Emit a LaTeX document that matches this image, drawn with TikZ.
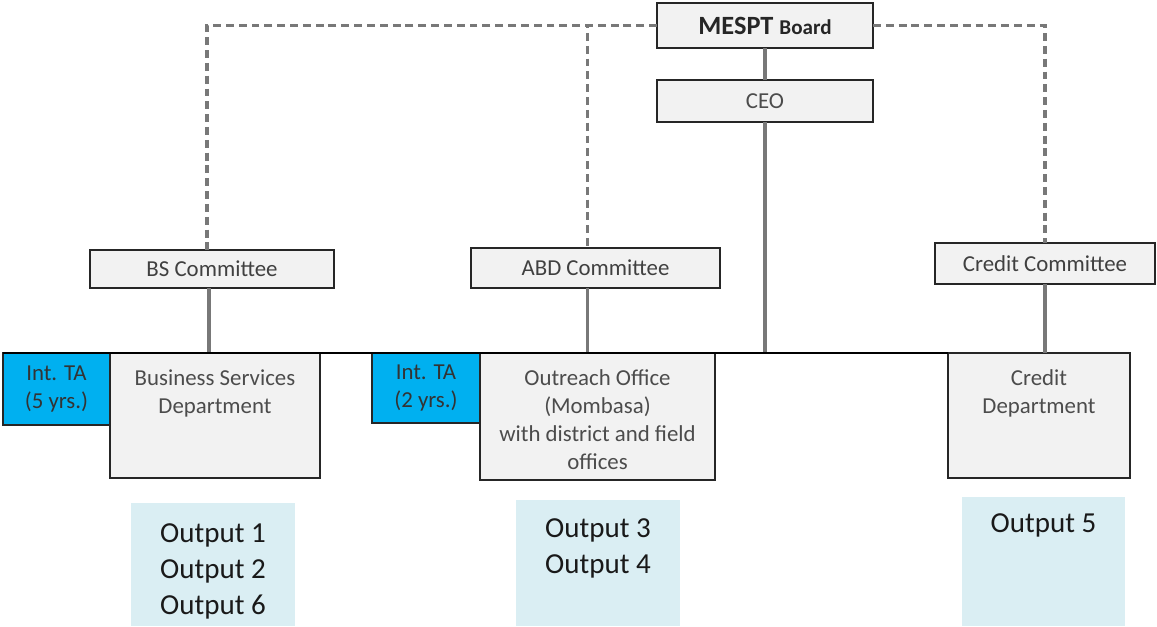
\documentclass[tikz,border=0pt]{standalone}
\usepackage{fontspec}
\setmainfont{Carlito}
\usepackage{xcolor}
\usetikzlibrary{calc}
\definecolor{boxgray}{RGB}{242,242,242}
\definecolor{tablue}{RGB}{0,176,240}
\definecolor{outblue}{RGB}{218,238,243}
\definecolor{linegray}{RGB}{120,120,120}
\newcommand{\boxtext}[3]{\parbox[t][#1][t]{#2}{\centering #3}}
\tikzset{
  unit/.style={draw=black!85, fill=boxgray, line width=1.1pt, outer sep=0pt},
  committee/.style={unit, font=\fontsize{13}{15.9}\selectfont, text=black!75},
  dept/.style={unit, inner xsep=0pt, inner ysep=0.34cm, font=\fontsize{13}{15.9}\selectfont, text=black!70},
  tabox/.style={unit, fill=tablue, align=center, font=\fontsize{13}{15.9}\selectfont, text=black!80},
  outbox/.style={fill=outblue, inner xsep=0pt, font=\fontsize{16.5}{20.4}\selectfont, text=black!90},
  solidline/.style={draw=linegray, line width=2pt},
  busline/.style={draw=black, line width=1.1pt},
  dashline/.style={draw=linegray, line width=2pt, dash pattern=on 4.5pt off 2.8pt}
}
\begin{document}
\begin{tikzpicture}[x=0.02cm, y=-0.02cm]
  \useasboundingbox (0,0) rectangle (1157,626);
  % board and management
  \node[unit, minimum width=4.32cm, minimum height=0.9cm, text=black!85] (board) at (765,25.5)
    {\fontsize{15}{18}\selectfont\bfseries MESPT {\fontsize{12}{14}\selectfont Board}};
  \node[committee, minimum width=4.32cm, minimum height=0.84cm, text=black!70] (ceo) at (765,101) {CEO};
  % committees
  \node[committee, minimum width=4.88cm, minimum height=0.76cm] (bscom) at (212,269) {BS Committee};
  \node[committee, minimum width=4.98cm, minimum height=0.8cm] (abdcom) at (595.5,268) {ABD Committee};
  \node[committee, minimum width=4.4cm, minimum height=0.82cm] (crcom) at (1045,263.5) {Credit Committee};
  % departments
  \node[tabox, minimum width=2.14cm, minimum height=1.44cm] (ta5) at (56.5,389) {Int. TA\\(5 yrs.)};
  \node[dept, minimum width=4.2cm, minimum height=2.5cm] (bsd) at (215,415.5)
    {\boxtext{1.82cm}{4.2cm}{Business Services\\Department}};
  \node[tabox, minimum width=2.16cm, minimum height=1.4cm] (ta2) at (426,388) {Int. TA\\(2 yrs.)};
  \node[dept, minimum width=4.7cm, minimum height=2.54cm] (ood) at (597.5,416.5)
    {\boxtext{1.86cm}{4.7cm}{Outreach Office\\(Mombasa)\\with district and field\\offices}};
  \node[dept, minimum width=3.64cm, minimum height=2.5cm] (cdept) at (1039,415.5)
    {\boxtext{1.82cm}{3.64cm}{Credit\\Department}};
  % outputs
  \node[outbox, inner ysep=0.41cm, minimum width=3.28cm, minimum height=2.46cm] (out1) at (213,564.5)
    {\boxtext{1.64cm}{3.28cm}{Output 1\\Output 2\\Output 6}};
  \node[outbox, inner ysep=0.37cm, minimum width=3.28cm, minimum height=2.52cm] (out2) at (598,563)
    {\boxtext{1.78cm}{3.28cm}{Output 3\\Output 4}};
  \node[outbox, inner ysep=0.33cm, minimum width=3.26cm, minimum height=2.58cm] (out3) at (1043.5,561.5)
    {\boxtext{1.92cm}{3.26cm}{Output 5}};
  % reporting lines
  \draw[solidline] (board) -- (ceo);
  \draw[solidline] (ceo.south) -- (ceo.south |- bsd.north);
  \draw[solidline] ($(bscom.south)+(-3,0)$) -- ($(bscom.south |- bsd.north)+(-3,0)$);
  \draw[solidline] ($(abdcom.south)+(-8,0)$) -- ($(abdcom.south |- ood.north)+(-8,0)$);
  \draw[solidline] (crcom.south) -- (crcom.south |- cdept.north);
  \draw[busline] (ta5.north west) -- (cdept.north west);
  % dashed links from the board
  \draw[dashline] (board.west) -| ($(bscom.north)+(-5,0)$);
  \draw[dashline] (board.west) -| ($(abdcom.north)+(-8,0)$);
  \draw[dashline] (board.east) -| (crcom.north);
\end{tikzpicture}
\end{document}
